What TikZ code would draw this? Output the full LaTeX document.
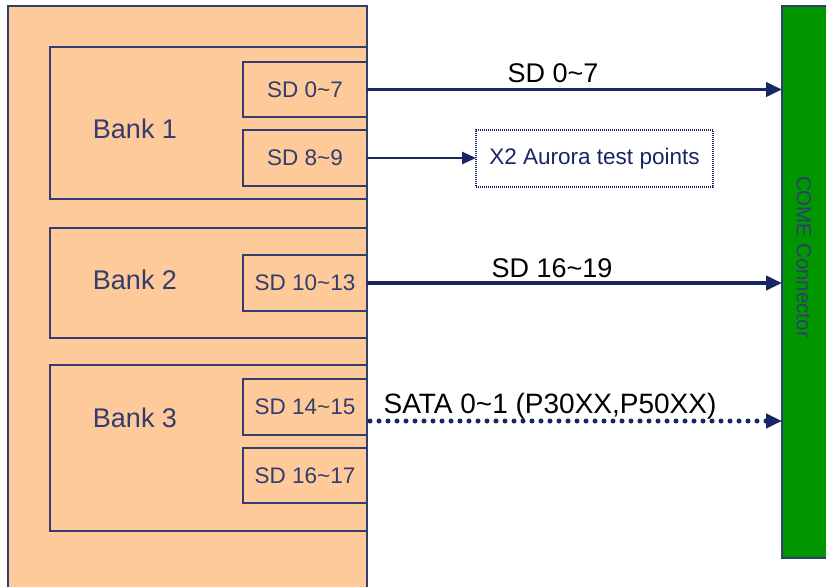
\documentclass[tikz,border=0pt]{standalone}
\usepackage{fontspec}
\setmainfont{Liberation Sans}
\usetikzlibrary{arrows.meta}
\definecolor{peach}{RGB}{255,202,153}
\definecolor{edge}{RGB}{50,60,110}
\definecolor{navy}{RGB}{24,38,100}
\definecolor{conn}{RGB}{0,150,0}
\begin{document}
\begin{tikzpicture}[x=1pt,y=-1pt,
  blk/.style={draw=edge, line width=1.4pt, fill=peach, inner sep=0pt, outer sep=0pt, anchor=north west},
  sdbox/.style={blk, minimum width=124pt, minimum height=55pt, text=edge,
    font=\fontsize{22.5}{26}\selectfont},
  bankbox/.style={blk, minimum width=317pt},
  banklabel/.style={text=edge, font=\fontsize{27}{30}\selectfont},
  buslabel/.style={text=black, font=\fontsize{27}{30}\selectfont},
  bus/.style={draw=navy, line width=3.8pt, -{Triangle[length=16pt,width=14pt]}},
  thinbus/.style={draw=navy, line width=2.6pt, -{Triangle[length=14pt,width=12pt]}},
  dotbus/.style={draw=navy, line width=5pt, line cap=round, dash pattern=on 0pt off 9pt,
    -{Triangle[length=16pt,width=14pt,line cap=butt]}},
  ]
\useasboundingbox (0,0) rectangle (826,586);
\clip (0,0) rectangle (826,586);
\fill[white] (0,0) rectangle (826,586);

% FPGA body and its banks
\node[blk, minimum width=359pt, minimum height=620pt] (fpga) at (8,6) {};
\node[bankbox, minimum height=152pt] (bank1) at (50,47) {};
\node[bankbox, minimum height=110pt] (bank2) at (50,228) {};
\node[bankbox, minimum height=166pt] (bank3) at (50,365) {};
\node[banklabel] (b1) at (135,129) {Bank 1};
\node[banklabel] (b2) at (135,280) {Bank 2};
\node[banklabel] (b3) at (135,418) {Bank 3};

% lane groups
\node[sdbox] (sd07) at (243,62) {SD 0\textasciitilde 7};
\node[sdbox, minimum height=56pt] (sd89) at (243,130) {SD 8\textasciitilde 9};
\node[sdbox, minimum height=56pt] (sd1013) at (243,255) {SD 10\textasciitilde 13};
\node[sdbox, minimum height=56pt] (sd1415) at (243,379) {SD 14\textasciitilde 15};
\node[sdbox] (sd1617) at (243,448) {SD 16\textasciitilde 17};

% carrier connector
\node[draw=edge, line width=1.2pt, fill=conn, inner sep=0pt, outer sep=0pt, anchor=north west,
  minimum width=60pt, minimum height=552pt] (come) at (782,6) {};
\node[rotate=-90, text=edge, font=\fontsize{20.5}{24}\selectfont] (comelbl) at (804,257) {COME Connector};

% test point box
\node[draw=navy, line width=1.1pt, dash pattern=on 1pt off 1pt, fill=white, inner sep=0pt,
  outer sep=0pt, anchor=north west, minimum width=237pt, minimum height=57pt,
  text=navy, font=\fontsize{22.5}{26}\selectfont] (tp) at (476,130) {X2 Aurora test points};

% links
\draw[bus] (sd07.east) -- (sd07.east -| come.west);
\draw[thinbus] (sd89.east) -- (sd89.east -| tp.west);
\draw[bus] (sd1013.east) -- (sd1013.east -| come.west);
\coordinate (sataA) at ([shift={(3,14)}]sd1415.east);
\draw[dotbus] (sataA) -- (sataA -| come.west);

\node[buslabel] (l1) at (553,73) {SD 0\textasciitilde 7};
\node[buslabel] (l2) at (552,268) {SD 16\textasciitilde 19};
\node[buslabel, font=\fontsize{28}{31}\selectfont] (l3) at (550,406) {SATA 0\textasciitilde 1 (P30XX,P50XX)};
\end{tikzpicture}
\end{document}
